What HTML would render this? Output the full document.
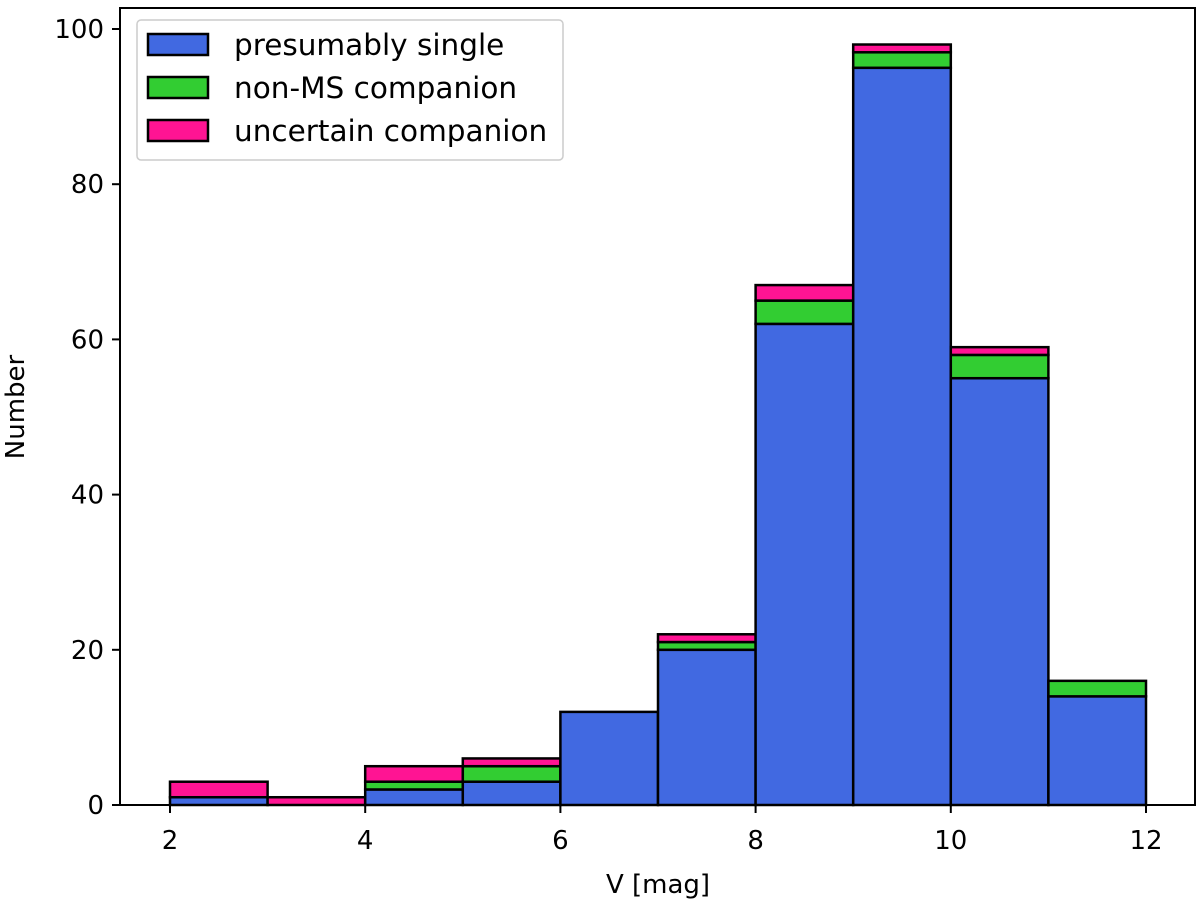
<!DOCTYPE html>
<html><head><meta charset="utf-8"><style>
body{margin:0;background:#fff;}
text{font-family:"DejaVu Sans","Liberation Sans",sans-serif;}
</style></head><body>
<svg id="chart" width="1200" height="902" xmlns="http://www.w3.org/2000/svg">
<rect width="1200" height="902" fill="#fff"/>
<g id="bars"></g>
<g id="axes"></g>
</svg>
<script>
const binEdges = [2,3,4,5,6,7,8,9,10,11,12];
const single = [1,0,2,3,12,20,62,95,55,14];
const nonMS = [0,0,1,2,0,1,3,2,3,2];
const uncertain = [2,1,2,1,0,1,2,1,1,0];
const xTicks = [2,4,6,8,10,12];
const yTicks = [0,20,40,60,80,100];
const NS="http://www.w3.org/2000/svg";
const L=120,R=1195,T=8,B=805;
const xs=v=>170+(v-2)*97.6;
const ys=v=>805-v*7.76;
function mk(tag,attrs,parent){const e=document.createElementNS(NS,tag);for(const k in attrs)e.setAttribute(k,attrs[k]);parent.appendChild(e);return e;}
const bars=document.getElementById('bars'), axes=document.getElementById('axes');
const series=[[single,'#4169e1','single'],[nonMS,'#32cd32','non-ms'],[uncertain,'#ff1493','uncertain']];
for(let i=0;i<single.length;i++){
  let base=0;
  for(const [arr,col,nm] of series){
    const v=arr[i];
    if(v>0){
      const r=mk('rect',{x:xs(binEdges[i]),y:ys(base+v),width:xs(binEdges[i+1])-xs(binEdges[i]),height:ys(base)-ys(base+v),fill:col,stroke:'#000','stroke-width':2.5},bars);
      
      
    }
    base+=v;
  }
}
const fr=mk('rect',{x:L,y:T,width:R-L,height:B-T,fill:'none',stroke:'#000','stroke-width':2},axes);

for(const t of xTicks){
  mk('line',{x1:xs(t),x2:xs(t),y1:B,y2:B+8,stroke:'#000','stroke-width':2},axes);
  const tx=mk('text',{x:xs(t),y:B+44,'text-anchor':'middle','font-size':26},axes);tx.textContent=t;
  
}
for(const t of yTicks){
  mk('line',{x1:L-8,x2:L,y1:ys(t),y2:ys(t),stroke:'#000','stroke-width':2},axes);
  const tx=mk('text',{x:L-16,y:ys(t)+9,'text-anchor':'end','font-size':26},axes);tx.textContent=t;
  
}
const xl=mk('text',{x:658,y:893,'text-anchor':'middle','font-size':26},axes);xl.textContent='V [mag]';

const yl=mk('text',{x:24,y:407,'text-anchor':'middle','font-size':26,transform:'rotate(-90 24 407)'},axes);yl.textContent='Number';

const lg=mk('g',{},axes);

mk('rect',{x:137,y:20,width:426,height:140,rx:4,fill:'#fff',stroke:'#ccc','stroke-width':1.5},lg);
const labels=['presumably single','non-MS companion','uncertain companion'];
series.forEach(([a,col,nm],i)=>{
  const y=34+i*43;
  const r=mk('rect',{x:148,y:y,width:60,height:21,fill:col,stroke:'#000','stroke-width':2.5},lg);
  
  const t=mk('text',{x:234,y:y+21,'font-size':29.5},lg);t.textContent=labels[i];
  
});
</script>
</body></html>
